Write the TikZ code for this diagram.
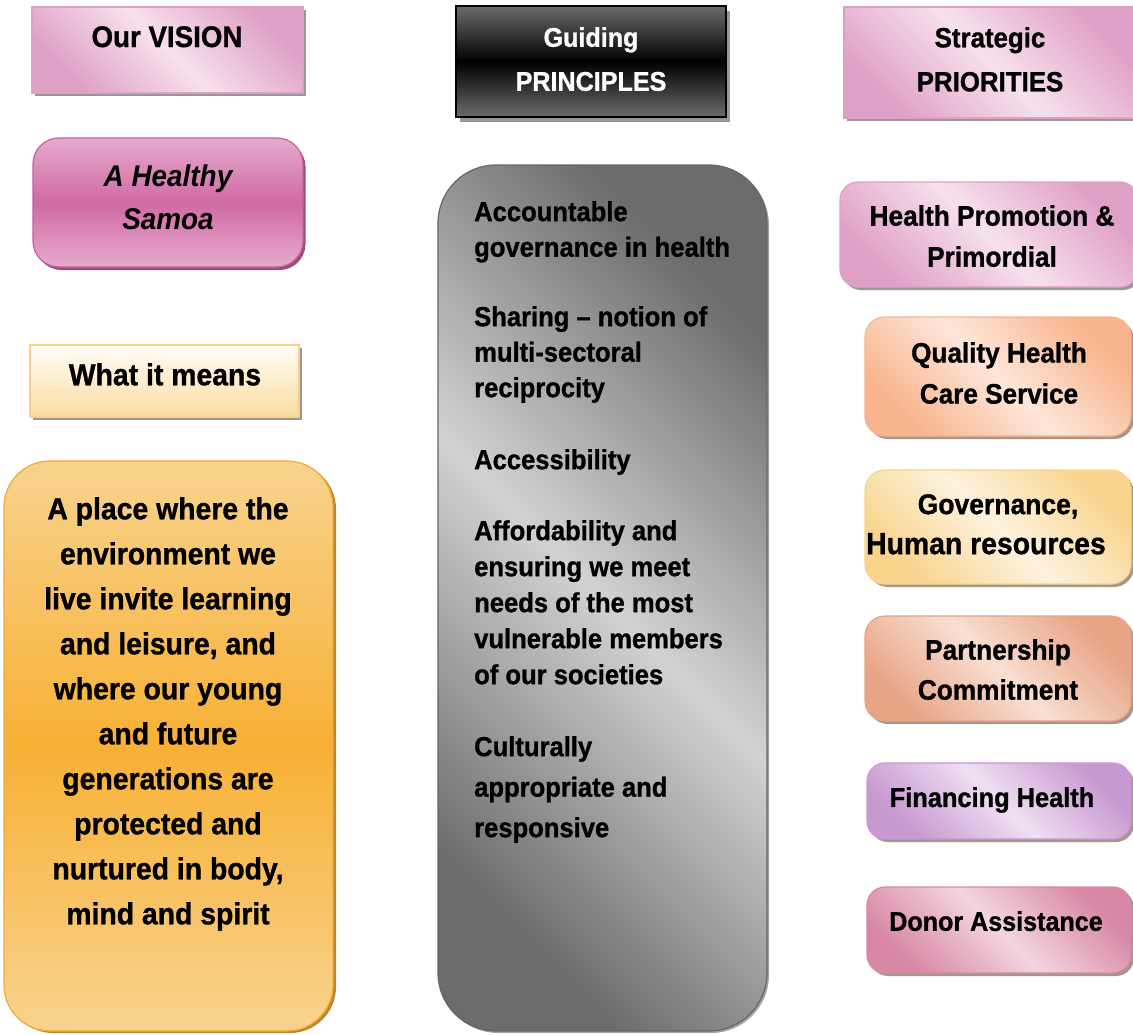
\documentclass[tikz,border=0pt]{standalone}
\usepackage{fontspec}
\setmainfont{Liberation Sans}[FakeStretch=0.93, BoldFeatures={FakeBold=1}]
\usetikzlibrary{shadows}

% palette
\definecolor{pinkdk}{HTML}{DFA0C6}
\definecolor{pinklt}{HTML}{F7E1ED}
\definecolor{magtop}{HTML}{E6AACD}
\definecolor{magmid}{HTML}{D06AA5}
\definecolor{magline}{HTML}{C65E9C}
\definecolor{magshadow}{HTML}{8E3C6E}
\definecolor{ambtop}{HTML}{F8D38E}
\definecolor{ambmid}{HTML}{F8B035}
\definecolor{ambline}{HTML}{F0AA35}
\definecolor{ambshadow}{HTML}{B47A1A}
\definecolor{creamtop}{HTML}{FFFDF8}
\definecolor{creambot}{HTML}{FBDCA0}
\definecolor{creamline}{HTML}{FCD088}
\definecolor{greydk}{HTML}{6C6C6C}
\definecolor{greylt}{HTML}{D2D2D2}
\definecolor{greyline}{HTML}{666666}
\definecolor{peachdk}{HTML}{F8B48C}
\definecolor{peachlt}{HTML}{FDE6DA}
\definecolor{golddk}{HTML}{F8D48C}
\definecolor{goldlt}{HTML}{FDF2DE}
\definecolor{salmondk}{HTML}{E8A486}
\definecolor{salmonlt}{HTML}{F8E0D2}
\definecolor{lilacdk}{HTML}{C898D0}
\definecolor{lilaclt}{HTML}{EFDFF2}
\definecolor{rosedk}{HTML}{D888A6}
\definecolor{roselt}{HTML}{F3D4DF}
\definecolor{shadowgrey}{HTML}{8C8C8C}
\definecolor{shadowbrown}{HTML}{9C8C80}

\begin{document}
\begin{tikzpicture}[x=1pt,y=-1pt,
  panel/.style={inner sep=0pt, outer sep=0pt, line width=1.2pt},
  flatshadow/.style={drop shadow={shadow xshift=3pt,shadow yshift=-3pt,fill=#1,opacity=0.9}},
  flatshadow/.default=shadowgrey,
  diag/.style 2 args={draw=#1, top color=#1, bottom color=#1, middle color=#2, shading angle=-45},
  tx/.style 2 args={inner sep=0pt, anchor=north, align=center, font=\fontsize{#1}{#2}\selectfont\bfseries},
  lefttx/.style={inner sep=0pt, anchor=north west, align=left, font=\fontsize{27.5}{#1}\selectfont\bfseries},
  lefttx/.default=35.5
]
\useasboundingbox (0,0) rectangle (1133,1034);

% ---------- left column: vision ----------
\node[panel, flatshadow, diag={pinkdk}{pinklt}, minimum width=271, minimum height=86]
  (vision) at (167.5,50) {};
\node[tx={29.8}{40}] (visiont) at (167,26) {Our VISION};

\node[panel, rounded corners=26pt, draw=magline, top color=magtop, bottom color=magtop, middle color=magmid,
  drop shadow={shadow xshift=2.5pt,shadow yshift=-3pt,fill=magshadow,opacity=0.9},
  minimum width=270, minimum height=129] (healthy) at (168,202.5) {};
\node[tx={30}{43}, font=\fontsize{30}{43}\selectfont\bfseries\itshape] (healthyt) at (168,165) {A Healthy\\Samoa};

\node[panel, flatshadow, draw=creamline, top color=creamtop, bottom color=creambot,
  minimum width=269, minimum height=72] (what) at (164.5,381) {};
\node[tx={30.5}{40}] (whatt) at (165,363) {What it means};

\node[panel, rounded corners=46pt, draw=ambline, top color=ambtop, bottom color=ambtop, middle color=ambmid,
  drop shadow={shadow xshift=3pt,shadow yshift=-2pt,fill=ambshadow,opacity=0.9},
  minimum width=329, minimum height=570] (place) at (168.5,746) {};
\node[tx={30.5}{45}] (placet) at (168,497) {A place where the\\environment we\\live invite learning\\and leisure, and\\where our young\\and future\\generations are\\protected and\\nurtured in body,\\mind and spirit};

% ---------- middle column: principles ----------
\node[panel, draw=black, line width=1.8pt, top color=greydk, bottom color=greydk, middle color=black,
  drop shadow={shadow xshift=4pt,shadow yshift=-5pt,fill=shadowgrey,opacity=0.9},
  minimum width=270, minimum height=111] (guiding) at (591,61.5) {};
\node[tx={27}{44}, text=white] (guidingt) at (591,27) {Guiding\\PRINCIPLES};

\node[panel, rounded corners=58pt, draw=greyline, top color=greydk, bottom color=greydk, middle color=greylt,
  shading angle=-45,
  drop shadow={shadow xshift=2pt,shadow yshift=-2pt,fill=shadowgrey,opacity=0.8},
  minimum width=329, minimum height=866] (principles) at (602.5,598) {};
\node[lefttx] (p1) at (474,201) {Accountable\\governance in health};
\node[lefttx] (p2) at (474,306) {Sharing – notion of\\multi-sectoral\\reciprocity};
\node[lefttx] (p3) at (474,449) {Accessibility};
\node[lefttx=36] (p4) at (474,520) {Affordability and\\ensuring we meet\\needs of the most\\vulnerable members\\of our societies};
\node[lefttx=40.5] (p5) at (474,736) {Culturally\\appropriate and\\responsive};

% ---------- right column: priorities ----------
\node[panel, flatshadow, diag={pinkdk}{pinklt}, minimum width=296, minimum height=111]
  (strategic) at (992,62.5) {};
\node[tx={27.8}{44}] (strategict) at (990,27) {Strategic\\PRIORITIES};

\node[panel, flatshadow, rounded corners=18pt, diag={pinkdk}{pinklt}, minimum width=298, minimum height=105]
  (promotion) at (989,234.5) {};
\node[tx={28.2}{41}] (promotiont) at (992,205) {Health Promotion \&\\Primordial};

\node[panel, flatshadow=shadowbrown, rounded corners=20pt, diag={peachdk}{peachlt}, minimum width=266, minimum height=119]
  (quality) at (998,376.5) {};
\node[tx={28.1}{41}] (qualityt) at (999,342) {Quality Health\\Care Service};

\node[panel, flatshadow=shadowbrown, rounded corners=20pt, diag={golddk}{goldlt}, minimum width=266, minimum height=114]
  (governance) at (998,527) {};
\node[tx={30.5}{40}] (governancet) at (986,494) {\hspace*{24pt}{\fontsize{28.5}{40}\selectfont Governance,}\\Human resources};

\node[panel, flatshadow=shadowbrown, rounded corners=20pt, diag={salmondk}{salmonlt}, minimum width=266, minimum height=105]
  (partnership) at (998,668.5) {};
\node[tx={28.2}{40}] (partnershipt) at (998,639) {Partnership\\Commitment};

\node[panel, flatshadow=shadowbrown, rounded corners=18pt, diag={lilacdk}{lilaclt}, minimum width=264, minimum height=76]
  (financing) at (999,801) {};
\node[tx={27.3}{40}] (financingt) at (992,787) {Financing Health};

\node[panel, flatshadow=shadowbrown, rounded corners=18pt, diag={rosedk}{roselt}, minimum width=264, minimum height=86]
  (donor) at (999,930) {};
\node[tx={27}{40}] (donort) at (996,911) {Donor Assistance};
\end{tikzpicture}
\end{document}
